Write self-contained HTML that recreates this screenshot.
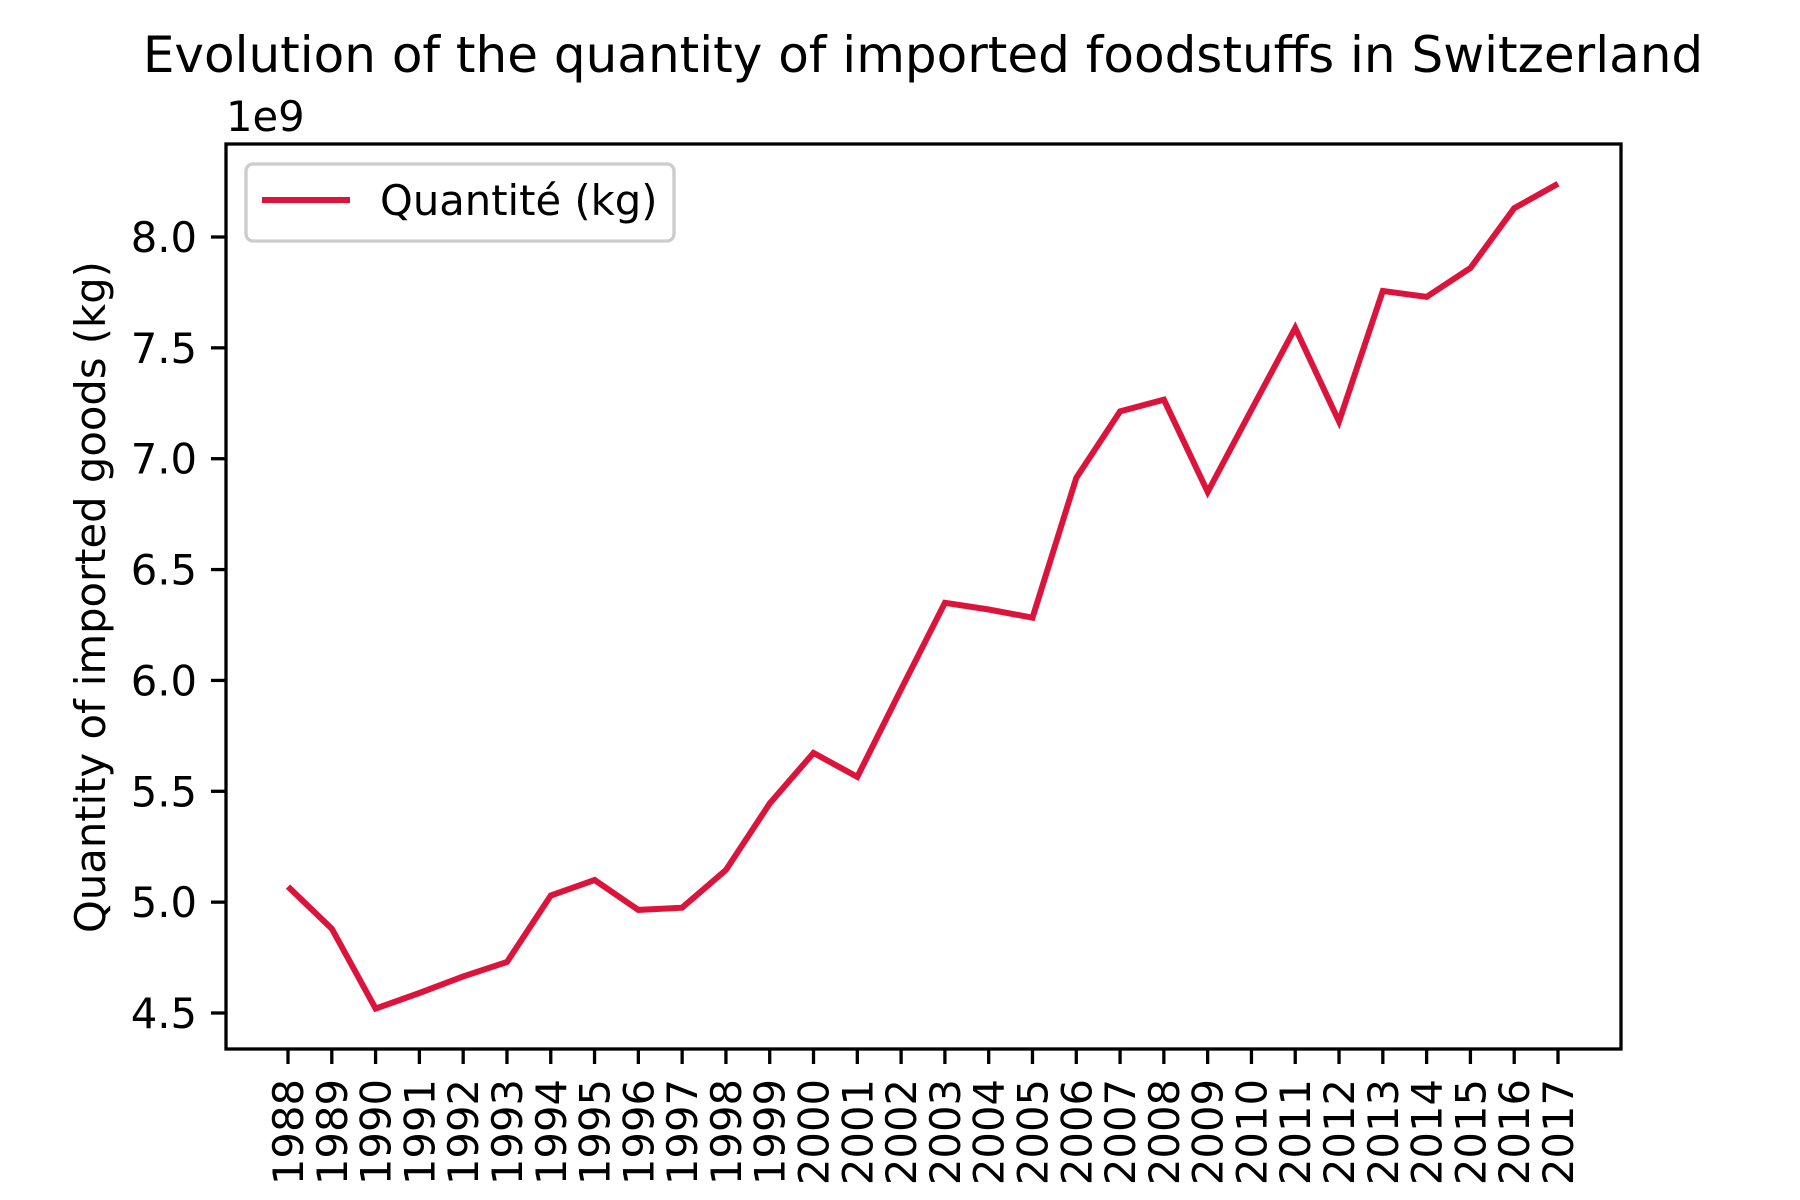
<!DOCTYPE html>
<html><head><meta charset="utf-8"><style>
html,body{margin:0;padding:0;background:#fff;}
svg{display:block;font-family:"DejaVu Sans","Liberation Sans",sans-serif;}
</style></head><body>
<svg id="chart" width="1800" height="1200" viewBox="0 0 1800 1200">
<text x="923" y="72" font-size="50" text-anchor="middle">Evolution of the quantity of imported foodstuffs in Switzerland</text>
<text x="226" y="131" font-size="41.7">1e9</text>
<text transform="translate(105,597) rotate(-90)" font-size="41.7" text-anchor="middle">Quantity of imported goods (kg)</text>
<g id="yticks"></g>
<g id="xticks"></g>
<path id="series" fill="none" stroke="#dc143c" stroke-width="6" stroke-linejoin="miter"/>
<rect x="226" y="144" width="1395" height="905" fill="none" stroke="#000" stroke-width="3.3"/>
<g>
<rect x="246" y="164" width="428" height="77" rx="7" fill="#fff" fill-opacity="0.8" stroke="#cccccc" stroke-width="3.3"/>
<line x1="262" y1="200" x2="350" y2="200" stroke="#dc143c" stroke-width="6"/>
<text x="380" y="215" font-size="41.7">Quantité (kg)</text>
</g>
</svg>
<script>
const years = [1988,1989,1990,1991,1992,1993,1994,1995,1996,1997,1998,1999,2000,2001,2002,2003,2004,2005,2006,2007,2008,2009,2010,2011,2012,2013,2014,2015,2016,2017];
const quantity = [5.07,4.88,4.52,4.59,4.665,4.73,5.03,5.10,4.965,4.975,5.145,5.445,5.673,5.565,5.96,6.35,6.32,6.283,6.914,7.214,7.266,6.85,7.22,7.59,7.168,7.757,7.73,7.86,8.13,8.24];
const yTicks = [4.5,5.0,5.5,6.0,6.5,7.0,7.5,8.0];
const yTickLabels = ["4.5","5.0","5.5","6.0","6.5","7.0","7.5","8.0"];

const NS = "http://www.w3.org/2000/svg";
function xPos(i){ return 288 + i * (1558 - 288) / 29; }
function yPos(v){ return 1013 - (v - 4.5) * (1013 - 237) / 3.5; }

const yg = document.getElementById('yticks');
yTicks.forEach((v,i)=>{
  const y = yPos(v);
  const l = document.createElementNS(NS,'line');
  l.setAttribute('x1',211); l.setAttribute('x2',226); l.setAttribute('y1',y); l.setAttribute('y2',y);
  l.setAttribute('stroke','#000'); l.setAttribute('stroke-width',3.3);
  
  
  yg.appendChild(l);
  const t = document.createElementNS(NS,'text');
  t.setAttribute('x',197); t.setAttribute('y',y+15); t.setAttribute('font-size',41.7); t.setAttribute('text-anchor','end');
  t.textContent = yTickLabels[i];
  
  
  yg.appendChild(t);
});

const xg = document.getElementById('xticks');
years.forEach((yr,i)=>{
  const x = xPos(i);
  const l = document.createElementNS(NS,'line');
  l.setAttribute('x1',x); l.setAttribute('x2',x); l.setAttribute('y1',1049); l.setAttribute('y2',1064);
  l.setAttribute('stroke','#000'); l.setAttribute('stroke-width',3.3);
  
  
  xg.appendChild(l);
  const t = document.createElementNS(NS,'text');
  t.setAttribute('transform','translate('+(x+15)+',1079) rotate(-90)');
  t.setAttribute('font-size',41.7); t.setAttribute('text-anchor','end');
  t.textContent = String(yr);
  
  
  xg.appendChild(t);
});

let d = '';
quantity.forEach((v,i)=>{ d += (i?'L':'M') + xPos(i).toFixed(1) + ',' + yPos(v).toFixed(1); });
document.getElementById('series').setAttribute('d', d);
</script>
</body></html>
